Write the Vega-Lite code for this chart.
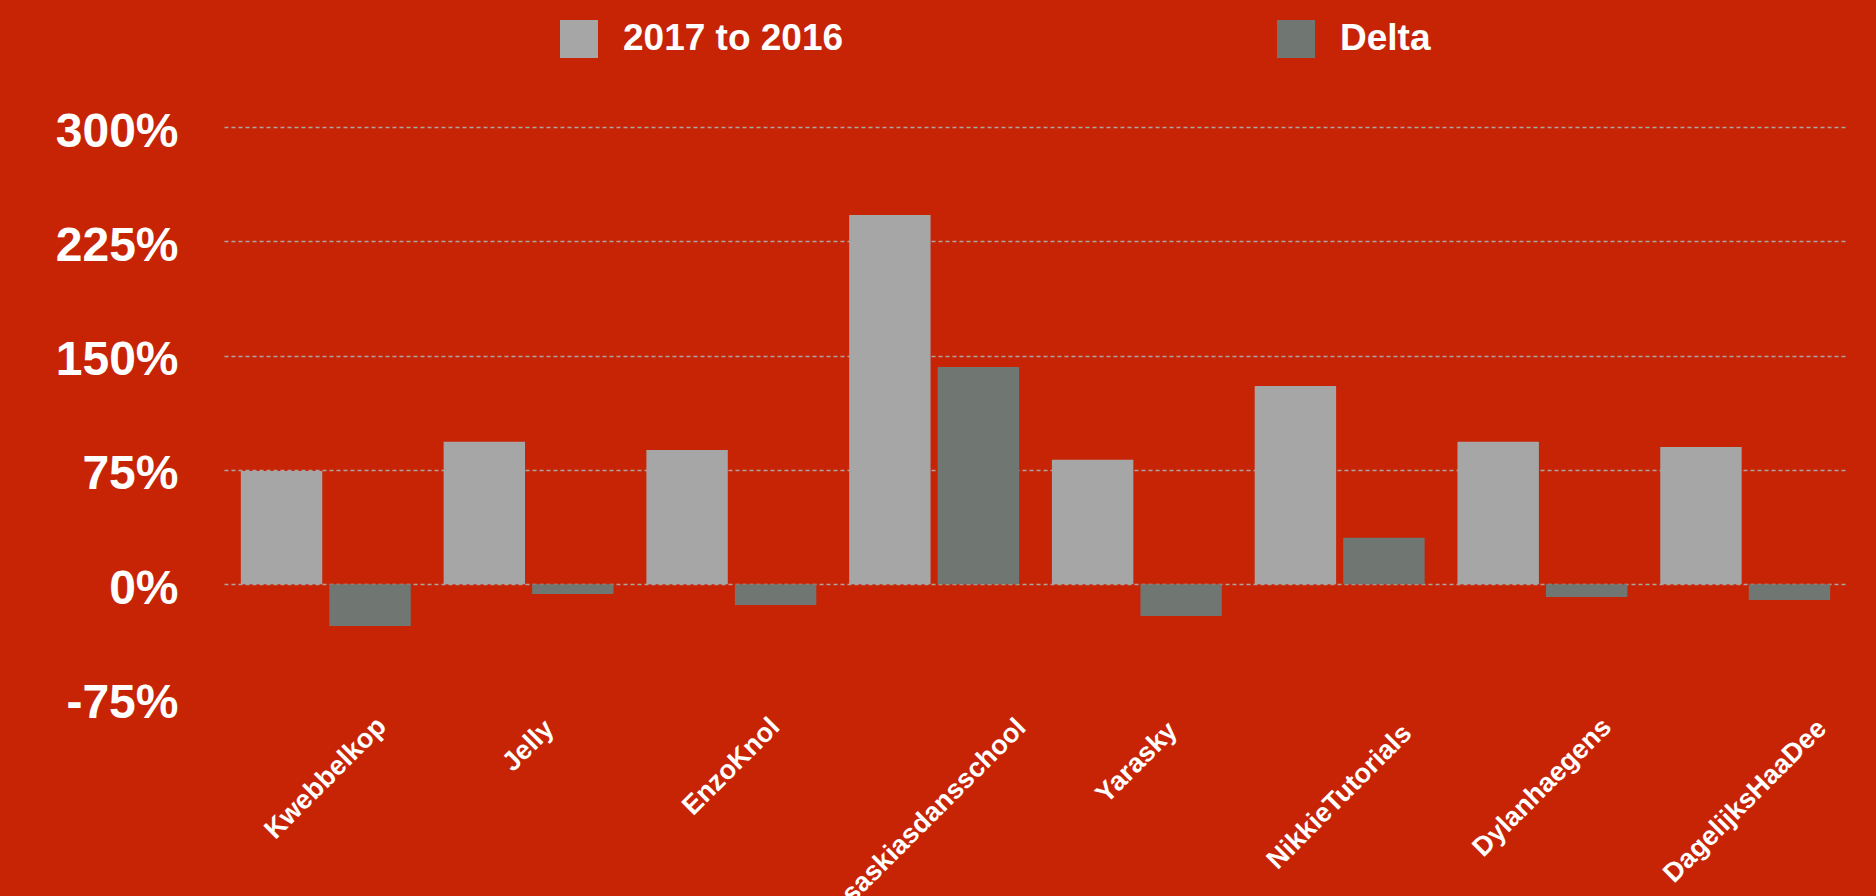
{
  "$schema": "https://vega.github.io/schema/vega-lite/v6.json",
  "width": 1623,
  "height": 571.5,
  "autosize": {"type": "none"},
  "padding": {"left": 224, "top": 127, "right": 29, "bottom": 197.5},
  "background": "#C72406",
  "config": {"view": {"stroke": null}, "font": "Liberation Sans"},
  "data": {
    "values": [
      {"channel": "Kwebbelkop", "series": "2017 to 2016", "value": 74.3},
      {"channel": "Kwebbelkop", "series": "Delta", "value": -27.4},
      {"channel": "Jelly", "series": "2017 to 2016", "value": 93.4},
      {"channel": "Jelly", "series": "Delta", "value": -6.4},
      {"channel": "EnzoKnol", "series": "2017 to 2016", "value": 88.1},
      {"channel": "EnzoKnol", "series": "Delta", "value": -13.6},
      {"channel": "saskiasdansschool", "series": "2017 to 2016", "value": 242.3},
      {"channel": "saskiasdansschool", "series": "Delta", "value": 142.6},
      {"channel": "Yarasky", "series": "2017 to 2016", "value": 81.6},
      {"channel": "Yarasky", "series": "Delta", "value": -20.8},
      {"channel": "NikkieTutorials", "series": "2017 to 2016", "value": 130.1},
      {"channel": "NikkieTutorials", "series": "Delta", "value": 30.4},
      {"channel": "Dylanhaegens", "series": "2017 to 2016", "value": 93.4},
      {"channel": "Dylanhaegens", "series": "Delta", "value": -8.4},
      {"channel": "DagelijksHaaDee", "series": "2017 to 2016", "value": 90.1},
      {"channel": "DagelijksHaaDee", "series": "Delta", "value": -10.3}
    ]
  },
  "mark": {"type": "bar"},
  "encoding": {
    "x": {
      "field": "channel",
      "type": "nominal",
      "sort": null,
      "scale": {"paddingInner": 0.162, "paddingOuter": 0.083},
      "axis": {
        "title": null,
        "ticks": false,
        "tickSize": 0,
        "domain": false,
        "grid": false,
        "labelAngle": -45,
        "labelAlign": "center",
        "labelBaseline": "middle",
        "labelFontSize": 27,
        "labelFontWeight": "bold",
        "labelColor": "#FFFFFF",
        "labelPadding": 28,
        "labelLimit": 0,
        "labelOverlap": false,
        "encoding": {
          "labels": {
            "dy": {"value": {"expr": "0.7071*(-4.5 + 9.56*(0.58*length(datum.label) - 0.3*length(replace(datum.label, regexp('[^ilj]', 'g'), '')) + 0.15*length(replace(datum.label, regexp('[^A-Z]', 'g'), '')) + 0.2*length(replace(datum.label, regexp('[^w]', 'g'), ''))))"}},
            "dx": {"value": {"expr": "-0.7071*(-4.5 + 9.56*(0.58*length(datum.label) - 0.3*length(replace(datum.label, regexp('[^ilj]', 'g'), '')) + 0.15*length(replace(datum.label, regexp('[^A-Z]', 'g'), '')) + 0.2*length(replace(datum.label, regexp('[^w]', 'g'), ''))))"}}
          }
        }
      }
    },
    "xOffset": {
      "field": "series",
      "type": "nominal",
      "sort": ["2017 to 2016", "Delta"],
      "scale": {"paddingInner": 0.08, "paddingOuter": 0}
    },
    "y": {
      "field": "value",
      "type": "quantitative",
      "scale": {"domain": [-75, 300], "nice": false},
      "axis": {
        "title": null,
        "values": [-75, 0, 75, 150, 225, 300],
        "labelExpr": "datum.value + '%'",
        "labelFontSize": 48,
        "labelFontWeight": "bold",
        "labelColor": "#FFFFFF",
        "labelPadding": 46,
        "labelOffset": 5,
        "ticks": false,
        "tickSize": 0,
        "domain": false,
        "grid": true,
        "gridColor": "#ABA3A1",
        "gridDash": [4, 3],
        "gridWidth": 1.5,
        "gridOpacity": {"condition": {"test": "datum.value === -75", "value": 0}, "value": 1}
      }
    },
    "color": {
      "field": "series",
      "type": "nominal",
      "sort": ["2017 to 2016", "Delta"],
      "scale": {"domain": ["2017 to 2016", "Delta"], "range": ["#A6A6A6", "#707672"]},
      "legend": {
        "title": null,
        "orient": "none",
        "legendX": 336,
        "legendY": -107,
        "direction": "horizontal",
        "symbolType": "square",
        "symbolSize": 1444,
        "symbolStrokeWidth": 0,
        "symbolOpacity": 1,
        "labelFontSize": 37,
        "labelFontWeight": "bold",
        "labelColor": "#FFFFFF",
        "labelOffset": 25,
        "columnPadding": 433,
        "padding": 0,
        "labelLimit": 0
      }
    }
  }
}
